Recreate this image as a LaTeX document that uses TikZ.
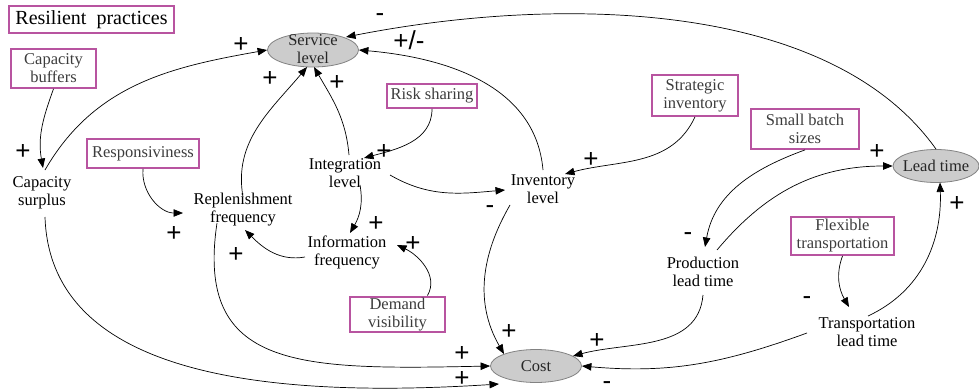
\documentclass[tikz,border=0pt]{standalone}
\usepackage{fontspec}
\setmainfont{Liberation Serif}
\newfontfamily\signfont{Liberation Sans}
\usetikzlibrary{arrows.meta,shapes.geometric}
\definecolor{boxc}{RGB}{184,84,160}
\definecolor{boxtext}{RGB}{60,60,60}
\definecolor{ellfill}{RGB}{204,204,204}
\definecolor{ellline}{RGB}{130,130,130}
\begin{document}
\begin{tikzpicture}[x=1pt,y=-1pt,
  every node/.style={inner sep=0pt},
  var/.style={align=center,font=\fontsize{16.5}{18}\selectfont},
  prac/.style={draw=boxc,line width=1.8pt,align=center,text=boxtext,font=\fontsize{16.5}{18}\selectfont},
  ell/.style={ellipse,draw=ellline,fill=ellfill,line width=0.8pt},
  sgn/.style={font=\signfont\fontsize{26}{26}\selectfont,text height=18pt,text depth=0pt},
  msgn/.style={font=\signfont\fontsize{26}{26}\selectfont,text height=12pt,text depth=0pt},
  arr/.style={line width=0.7pt,-{Triangle[length=9.5pt,width=7.5pt]}}]
\useasboundingbox (0,0) rectangle (979,391);

% practice boxes
\node[prac,minimum width=165,minimum height=27,text=black,font=\fontsize{20}{22}\selectfont] (rp) at (91.5,19.5) {Resilient~ practices};
\node[prac,minimum width=85,minimum height=39] (cb) at (53.5,68.5) {Capacity\\buffers};
\node[prac,minimum width=112,minimum height=29] (resp) at (143,153.5) {Responsiviness};
\node[prac,minimum width=90,minimum height=24] (rs) at (432,96) {Risk sharing};
\node[prac,minimum width=86,minimum height=41] (si) at (695,95.5) {Strategic\\inventory};
\node[prac,minimum width=108,minimum height=40] (sbs) at (805,129) {Small batch\\sizes};
\node[prac,minimum width=103,minimum height=38] (ft) at (842.5,236) {Flexible\\transportation};
\node[prac,minimum width=95,minimum height=35] (dv) at (397.5,314.5) {Demand\\visibility};

% ellipses
\node[ell,minimum width=91,minimum height=34] (sl) at (313,50) {};
\node[var,text=black!85] (sltext) at (313,49) {Service\\level};
\node[ell,minimum width=86,minimum height=33] (lt) at (936,166) {};
\node[var,text=black!85] (lttext) at (936,166) {Lead time};
\node[ell,minimum width=91,minimum height=33] (cost) at (536,366) {};
\node[var,text=black!85] (costtext) at (536,366) {Cost};

% variables
\node[var] (cs) at (42,193) {Capacity\\surplus};
\node[var] (rf) at (243,210) {Replenishment\\frequency};
\node[var] (il) at (345,173) {Integration\\level};
\node[var] (inv) at (543,189) {Inventory\\level};
\node[var] (inf) at (347,252) {Information\\frequency};
\node[var] (plt) at (703,272) {Production\\lead time};
\node[var] (tlt) at (867,332) {Transportation\\lead time};

% connectors
\draw[arr] (cb.south) to[out=-110,in=100] ([shift={(1,-25)}]cs.center);
\draw[arr] ([shift={(3,-23)}]cs.center) to[out=60,in=190] (sl.west);
\draw[arr] (resp.south) to[out=-95,in=180] ([shift={(-60,3)}]rf.center);
\draw[arr] ([shift={(0,-13)}]rf.center) to[out=100,in=-130] ([shift={(-6,17)}]sl.center);
\draw[arr] ([shift={(4,-18)}]il.center) to[out=95,in=-60] ([shift={(1,17)}]sl.center);
\draw[arr] (rs.south) to[out=-90,in=15] ([shift={(19,-15)}]il.center);
\draw[arr] ([shift={(45,2)}]il.center) to[out=-30,in=185] ([shift={(-38,1)}]inv.center);
\draw[arr] ([shift={(0,-19)}]inv.center) to[out=95,in=-5] (sl.east);
\draw[arr] (si.south) to[out=-115,in=15] ([shift={(22,-15)}]inv.center);
\draw[arr] (lt.north) .. controls (830,0) and (560,-5) .. ([shift={(33,-13)}]sl.center);
\draw[arr] (sbs.south) to[out=-160,in=80] ([shift={(2,-25)}]plt.center);
\draw[arr] ([shift={(14,-22)}]plt.center) to[out=50,in=180] (lt.west);
\draw[arr] (ft.south) to[out=-110,in=120] ([shift={(-18,-25)}]tlt.center);
\draw[arr] ([shift={(1,-16)}]tlt.center) to[out=25,in=-88] ([shift={(4,16.5)}]lt.center);
\draw[arr] ([shift={(-33,16)}]inv.center) to[out=-120,in=120] ([shift={(-32,-12)}]cost.center);
\draw[arr] ([shift={(0,23)}]plt.center) to[out=-95,in=15] ([shift={(37,-10)}]cost.center);
\draw[arr] ([shift={(-60,1)}]tlt.center) to[out=-160,in=-5] (cost.east);
\draw[arr] ([shift={(-26,13)}]rf.center) .. controls (195,370) and (300,370) .. (cost.west);
\draw[arr] ([shift={(3,24)}]cs.center) .. controls (50,370) and (250,400) .. ([shift={(-37,18)}]cost.center);
\draw[arr] ([shift={(15,12)}]il.center) to[out=-80,in=60] ([shift={(3,-19)}]inf.center);
\draw[arr] ([shift={(-42,5)}]inf.center) to[out=190,in=-45] ([shift={(2,20)}]rf.center);
\draw[arr] ([shift={(30,-19)}]dv.center) to[out=60,in=-25] ([shift={(50,-7)}]inf.center);

% signs
\node[sgn] (s1) at (23,150) {+};
\node[sgn] (s2) at (241,43) {+};
\node[sgn] (s3) at (270,77) {+};
\node[sgn] (s4) at (337,81) {+};
\node[sgn] (s5) at (384,150) {+};
\node[sgn] (s6) at (409,40) {+/-};
\node[msgn] (s7) at (380,15) {-};
\node[sgn] (s8) at (591,158) {+};
\node[msgn] (s9) at (490,207) {-};
\node[sgn] (s10) at (174,232) {+};
\node[sgn] (s11) at (236,253) {+};
\node[sgn] (s12) at (376,222) {+};
\node[sgn] (s13) at (413,242) {+};
\node[sgn] (s14) at (509,330) {+};
\node[sgn] (s15) at (462,352) {+};
\node[sgn] (s16) at (462,377) {+};
\node[sgn] (s17) at (597,339) {+};
\node[msgn] (s18) at (607,383) {-};
\node[msgn] (s19) at (688,234) {-};
\node[sgn] (s20) at (877,150) {+};
\node[msgn] (s21) at (807,298) {-};
\node[sgn] (s22) at (957,202) {+};
\end{tikzpicture}
\end{document}
